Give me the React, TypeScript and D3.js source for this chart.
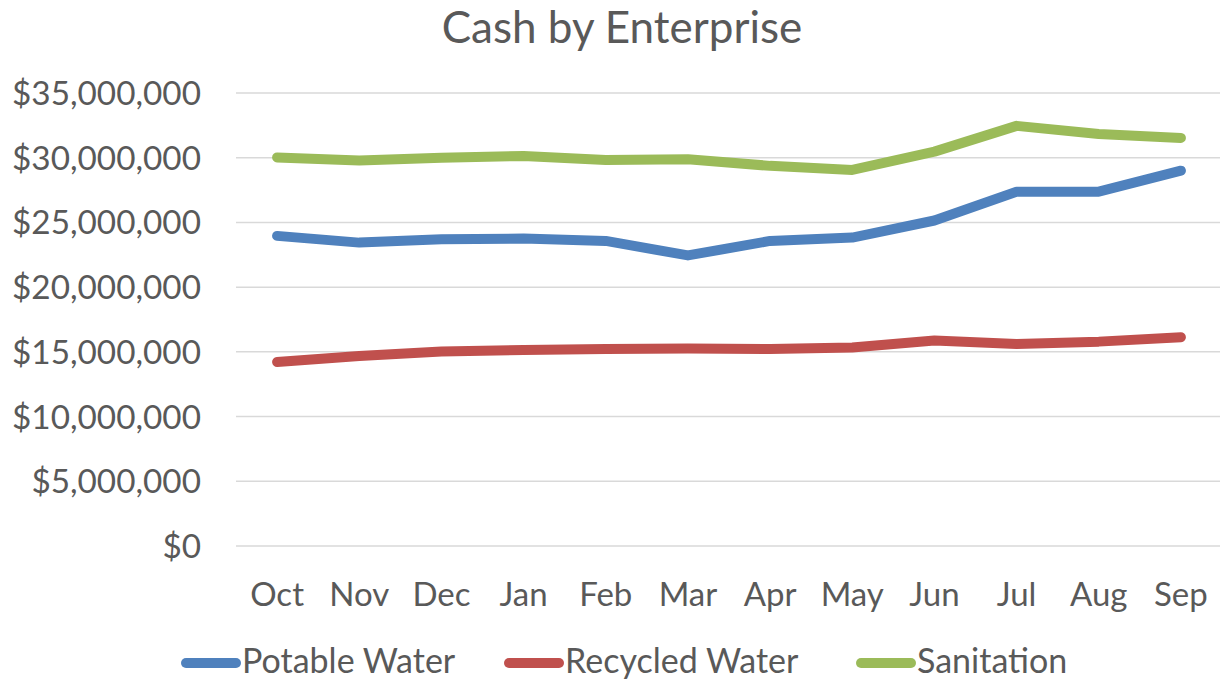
import React, { useEffect, useRef } from "react";
import * as d3 from "d3";

const months = ["Oct", "Nov", "Dec", "Jan", "Feb", "Mar", "Apr", "May", "Jun", "Jul", "Aug", "Sep"];
const potableWater = [23.96, 23.44, 23.7, 23.75, 23.57, 22.45, 23.57, 23.83, 25.15, 27.38, 27.38, 29.0].map((v) => v * 1e6);
const recycledWater = [14.22, 14.68, 15.02, 15.15, 15.22, 15.25, 15.22, 15.33, 15.87, 15.61, 15.79, 16.13].map((v) => v * 1e6);
const sanitation = [30.02, 29.78, 30.0, 30.14, 29.83, 29.88, 29.37, 29.06, 30.47, 32.46, 31.84, 31.53].map((v) => v * 1e6);
const yTicks = [0, 5e6, 10e6, 15e6, 20e6, 25e6, 30e6, 35e6];
const seriesNames = ["Potable Water", "Recycled Water", "Sanitation"];
const seriesColors = ["#4F81BD", "#C0504D", "#9BBB59"];
const title = "Cash by Enterprise";

export default function App() {
  const ref = useRef<SVGSVGElement>(null);

  useEffect(() => {
    const svg = d3.select(ref.current);
    svg.selectAll("*").remove();
    const font = "Lato, 'Open Sans', sans-serif";
    const textColor = "#595959";

    const left = 236, right = 1222, top = 93, bottom = 546;
    const x = d3.scaleBand<string>().domain(months).range([left, right]);
    const y = d3.scaleLinear().domain([0, 35e6]).range([bottom, top]);
    const fmt = (v: number) => "$" + d3.format(",")(v);

    svg.append("text")
      .attr("x", 622).attr("y", 27).attr("dy", "0.36em")
      .attr("text-anchor", "middle")
      .attr("font-family", font).attr("font-size", 44)
      .attr("fill", textColor)
      .text(title);

    const grid = svg.append("g");
    grid.selectAll("line").data(yTicks).join("line")
      .attr("x1", left).attr("x2", right)
      .attr("y1", (d) => y(d)).attr("y2", (d) => y(d))
      .attr("stroke", "#D9D9D9").attr("stroke-width", 1.5);

    svg.append("g").selectAll("text").data(yTicks).join("text")
      .attr("x", 201).attr("y", (d) => y(d))
      .attr("dy", "0.36em")
      .attr("text-anchor", "end")
      .attr("font-family", font).attr("font-size", 33.3)
      .attr("fill", textColor)
      .text((d) => fmt(d));

    svg.append("g").selectAll("text").data(months).join("text")
      .attr("x", (d) => (x(d) as number) + x.bandwidth() / 2)
      .attr("y", 594).attr("dy", "0.36em")
      .attr("text-anchor", "middle")
      .attr("font-family", font).attr("font-size", 33)
      .attr("fill", textColor)
      .text((d) => d);

    const series = [potableWater, recycledWater, sanitation];
    const line = d3.line<number>()
      .x((_, i) => (x(months[i]) as number) + x.bandwidth() / 2)
      .y((d) => y(d));

    series.forEach((s, i) => {
      svg.append("path")
        .datum(s)
        .attr("d", line)
        .attr("fill", "none")
        .attr("stroke", seriesColors[i])
        .attr("stroke-width", 10)
        .attr("stroke-linecap", "round")
        .attr("stroke-linejoin", "round");
    });

    const legendX = [182, 505, 857];
    const legendY = 663;
    seriesNames.forEach((name, i) => {
      const g = svg.append("g");
      g.append("line")
        .attr("x1", legendX[i] + 4).attr("x2", legendX[i] + 54)
        .attr("y1", legendY).attr("y2", legendY)
        .attr("stroke", seriesColors[i]).attr("stroke-width", 10)
        .attr("stroke-linecap", "round");
      g.append("text")
        .attr("x", legendX[i] + 60).attr("y", legendY - 2).attr("dy", "0.34em")
        .attr("font-family", font).attr("font-size", 34)
        .attr("fill", textColor)
        .text(name);
    });
  }, []);

  return (
    <svg
      ref={ref}
      width={1220}
      height={680}
      style={{ position: "absolute", left: 0, top: 0, background: "#fff" }}
    />
  );
}
